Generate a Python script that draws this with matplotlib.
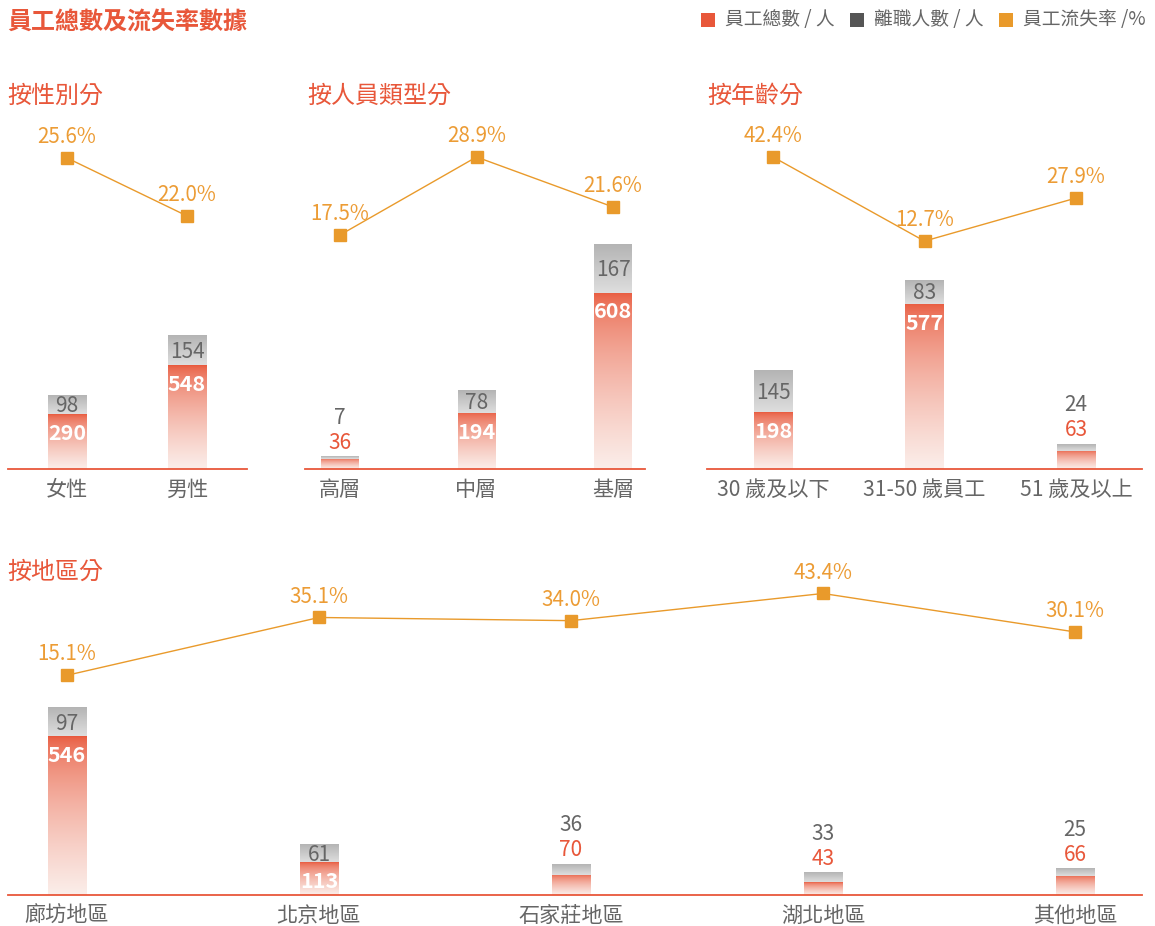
import numpy as np
import matplotlib
matplotlib.use("Agg")
import matplotlib.pyplot as plt
from matplotlib.patches import Patch
from matplotlib.colors import to_rgb

plt.rcParams['font.family'] = ['Noto Sans CJK TC', 'DejaVu Sans']

# ---------------- data ----------------
title = "員工總數及流失率數據"
legend_labels = ["員工總數 / 人", "離職人數 / 人", "員工流失率 /%"]

gender_title = "按性別分"
gender_cats = ["女性", "男性"]
gender_total = [290, 548]
gender_left = [98, 154]
gender_rate = [25.6, 22.0]

type_title = "按人員類型分"
type_cats = ["高層", "中層", "基層"]
type_total = [36, 194, 608]
type_left = [7, 78, 167]
type_rate = [17.5, 28.9, 21.6]

age_title = "按年齡分"
age_cats = ["30 歲及以下", "31-50 歲員工", "51 歲及以上"]
age_total = [198, 577, 63]
age_left = [145, 83, 24]
age_rate = [42.4, 12.7, 27.9]

region_title = "按地區分"
region_cats = ["廊坊地區", "北京地區", "石家莊地區", "湖北地區", "其他地區"]
region_total = [546, 113, 70, 43, 66]
region_left = [97, 61, 36, 33, 25]
region_rate = [15.1, 35.1, 34.0, 43.4, 30.1]

# ---------------- style ----------------
RED = "#E8573A"
RED_LIGHT = "#FBEEEA"
GRAY_TOP = "#B4B4B4"
GRAY_BOT = "#DEDEDE"
DARK = "#555555"
ORANGE = "#E99A2B"
ORANGE_TXT = "#EC9C35"
TXT = "#666666"

W, H = 1155, 926
fig = plt.figure(figsize=(W / 100, H / 100), dpi=100)


def px_axes(left, top, right, bottom):
    return fig.add_axes([left / W, 1 - bottom / H, (right - left) / W, (bottom - top) / H])


def grad_img(c_top, c_bot, power, n=256):
    f = np.linspace(0, 1, n) ** power  # 0 top -> 1 bottom
    a = np.array(to_rgb(c_top))
    b = np.array(to_rgb(c_bot))
    img = a[None, :] * (1 - f[:, None]) + b[None, :] * f[:, None]
    return img[:, None, :]


RED_IMG = grad_img(RED, RED_LIGHT, 0.6)
GRAY_IMG = grad_img(GRAY_TOP, GRAY_BOT, 1.0)


def panel(cats, total, left, rate, box, xlim, barw, ylim_bar, ylim_line):
    ax = px_axes(*box)
    x = np.arange(len(cats))
    rb = ax.bar(x, total, width=barw, color="none", edgecolor="none")
    gb = ax.bar(x, left, width=barw, bottom=total, color="none", edgecolor="none")
    for r in rb:
        x0, w, h = r.get_x(), r.get_width(), r.get_height()
        ax.imshow(RED_IMG, extent=(x0, x0 + w, 0, h), aspect="auto", zorder=2, interpolation="bilinear")
    for r in gb:
        x0, w, b0, h = r.get_x(), r.get_width(), r.get_y(), r.get_height()
        ax.imshow(GRAY_IMG, extent=(x0, x0 + w, b0, b0 + h), aspect="auto", zorder=2, interpolation="bilinear")
    for xi, t, l in zip(x, total, left):
        if t >= 100:
            ax.annotate(str(t), (xi, t), xytext=(0, -14), textcoords="offset points",
                        ha="center", va="center", color="white", fontsize=15.5, fontweight="bold", zorder=5)
            ax.annotate(str(l), (xi, t + l / 2), xytext=(0, -1), textcoords="offset points",
                        ha="center", va="center", color=TXT, fontsize=15, zorder=5)
        else:
            ax.annotate(str(t), (xi, t + l), xytext=(0, 10), textcoords="offset points",
                        ha="center", va="center", color=RED, fontsize=15, zorder=5)
            ax.annotate(str(l), (xi, t + l), xytext=(0, 28), textcoords="offset points",
                        ha="center", va="center", color=TXT, fontsize=15, zorder=5)
    ax.set_xlim(*xlim)
    ax.set_ylim(*ylim_bar)
    ax.set_xticks(x)
    ax.set_xticklabels(cats, fontsize=15.2, color=TXT)
    ax.tick_params(axis="x", length=0, pad=7)
    ax.set_yticks([])
    for s in ["top", "left", "right"]:
        ax.spines[s].set_visible(False)
    ax.spines["bottom"].set_color(RED)
    ax.spines["bottom"].set_linewidth(1.3)
    ax.patch.set_alpha(0)

    ax2 = px_axes(*box)
    ax2.plot(x, rate, color=ORANGE, lw=1.0, marker="s", ms=8.5, mfc=ORANGE, mec=ORANGE, zorder=3)
    for xi, v in zip(x, rate):
        ax2.annotate(f"{v:.1f}%", (xi, v), xytext=(0, 15), textcoords="offset points",
                     ha="center", va="center", color=ORANGE_TXT, fontsize=14.8)
    ax2.set_xlim(*xlim)
    ax2.set_ylim(*ylim_line)
    ax2.axis("off")
    return ax


panel(gender_cats, gender_total, gender_left, gender_rate,
      (8, 110, 247, 469), (-0.492, 1.5), 0.317, (0, 1894), (6.28, 28.58))
panel(type_cats, type_total, type_left, type_rate,
      (305, 110, 645, 469), (-0.256, 2.234), 0.278, (0, 1237), (-16.7, 35.77))
panel(age_cats, age_total, age_left, age_rate,
      (707, 110, 1142, 469), (-0.436, 2.436), 0.251, (0, 1253), (-67.8, 59.0))
panel(region_cats, region_total, region_left, region_rate,
      (8, 540, 1142, 895), (-0.234, 4.266), 0.151, (0, 1221), (-60.9, 61.9))

# titles
fig.text(7 / W, 1 - 23 / H, title, fontsize=17.3, fontweight="bold", color=RED, ha="left", va="center")
for t, xx, yy in [(gender_title, 7, 96), (type_title, 307, 96), (age_title, 707, 96), (region_title, 7, 572)]:
    fig.text(xx / W, 1 - yy / H, t, fontsize=17.3, color=RED, ha="left", va="center")

handles = [Patch(facecolor=RED), Patch(facecolor=DARK), Patch(facecolor=ORANGE)]
leg = fig.legend(handles, legend_labels, loc="center right", bbox_to_anchor=(1153 / W, 1 - 20 / H),
                 ncol=3, frameon=False, fontsize=13.5, handlelength=0.75, handleheight=1.0,
                 handletextpad=0.55, columnspacing=0.8, borderaxespad=0)
for p in leg.get_patches():
    p.set_height(p.get_width())
for t in leg.get_texts():
    t.set_color(TXT)

fig.savefig("out.png", dpi=100)
